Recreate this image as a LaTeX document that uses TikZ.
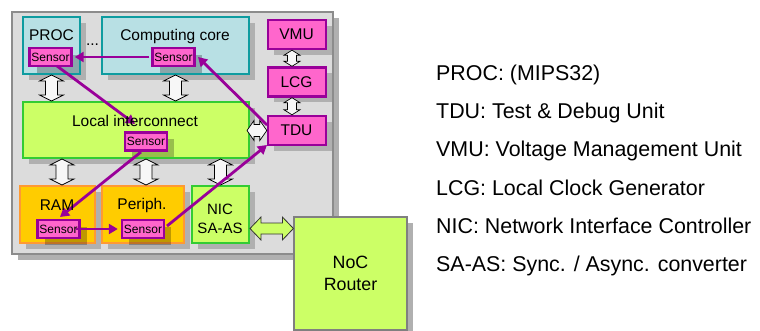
\documentclass[tikz,border=0pt]{standalone}
\usepackage{fontspec}
\setmainfont{Liberation Sans}
\usetikzlibrary{calc,shadows,arrows.meta}
\definecolor{panelgray}{HTML}{DCDCDC}
\definecolor{shadowgray}{HTML}{B0B0B0}
\definecolor{tealline}{HTML}{0E9CA0}
\definecolor{tealfill}{HTML}{B8E0E4}
\definecolor{limefill}{HTML}{CCFF66}
\definecolor{limeline}{HTML}{33CC33}
\definecolor{amberfill}{HTML}{FFCC00}
\definecolor{amberline}{HTML}{FF9933}
\definecolor{pinkfill}{HTML}{FF66CC}
\definecolor{purpleline}{HTML}{990099}
\tikzset{
  boxshadow/.style={drop shadow={shadow xshift=6pt,shadow yshift=-6pt,fill=shadowgray,opacity=1}},
  basebox/.style={draw,inner sep=0pt,line width=2pt,boxshadow},
  panel/.style={basebox,draw=gray!90,fill=panelgray},
  corebox/.style={basebox,draw=tealline,fill=tealfill},
  busbox/.style={basebox,draw=limeline,fill=limefill},
  membox/.style={basebox,draw=amberline,fill=amberfill},
  ctlbox/.style={basebox,line width=2.4pt,draw=purpleline,fill=pinkfill},
  routerbox/.style={basebox,line width=1.2pt,draw=gray,fill=limefill,align=center,font=\fontsize{17.8}{22.5}\selectfont},
  sensorbox/.style={draw=purpleline,fill=pinkfill,line width=2.4pt,inner sep=0pt,minimum width=42pt,minimum height=18pt,
    drop shadow={shadow xshift=7pt,shadow yshift=-7pt,fill=black,opacity=.25}},
  lbl/.style={inner sep=0pt,align=center,font=\fontsize{15.5}{18.5}\selectfont},
  sensorlbl/.style={inner sep=0pt,font=\fontsize{12}{14}\selectfont},
  legend/.style={inner sep=0pt,anchor=base west,font=\fontsize{21.4}{25}\selectfont},
  probe/.style={draw=purpleline,line width=2.8pt,-{Triangle[length=9pt,width=10pt]}},
  blockwhite/.style={draw=black,line width=.7pt,fill=white!97!black,line join=miter},
  blockgreen/.style={draw=black!80,line width=.8pt,fill=limefill,line join=miter},
}
% #1 style, #2 start, #3 end, #4 head length, #5 half head width, #6 half shaft width
\newcommand\blockarrow[6]{%
  \draw[#1] (#2)
    -- ($(#2)!#4!(#3)!#5!90:(#3)$) -- ($(#2)!#4!(#3)!#6!90:(#3)$)
    -- ($(#3)!#4!(#2)!#6!-90:(#2)$) -- ($(#3)!#4!(#2)!#5!-90:(#2)$)
    -- (#3)
    -- ($(#3)!#4!(#2)!#5!90:(#2)$) -- ($(#3)!#4!(#2)!#6!90:(#2)$)
    -- ($(#2)!#4!(#3)!#6!-90:(#3)$) -- ($(#2)!#4!(#3)!#5!-90:(#3)$)
    -- cycle;}
\begin{document}
\begin{tikzpicture}[x=1pt,y=-1pt]
\useasboundingbox (0,0) rectangle (760,331);
\clip (0,0) rectangle (760,331);
% panel
\node[panel,minimum width=321pt,minimum height=242pt] (soc) at (172.5,133) {};
% boxes
\node[corebox,minimum width=57pt,minimum height=57pt] (proc) at (51.5,45.5) {};
\node[corebox,minimum width=147pt,minimum height=57pt] (core) at (175.5,45.5) {};
\node[busbox,minimum width=226pt,minimum height=56pt] (bus) at (136,130) {};
\node[membox,minimum width=75pt,minimum height=57pt] (ram) at (57.5,214.5) {};
\node[membox,minimum width=82pt,minimum height=57pt] (per) at (143,214.5) {};
\node[busbox,minimum width=57pt,minimum height=57pt] (nic) at (220.5,214.5) {};
\node[ctlbox,minimum width=58pt,minimum height=29pt] (vmu) at (297,34.5) {};
\node[ctlbox,minimum width=58pt,minimum height=29pt] (lcg) at (297,82) {};
\node[ctlbox,minimum width=58pt,minimum height=29pt] (tdu) at (297,130.5) {};
% white block arrows
\coordinate (a1) at (proc.south);
\coordinate (b1) at (a1 |- bus.north);
\coordinate (a2) at (core.south);
\coordinate (b2) at (a2 |- bus.north);
\coordinate (a3) at ([xshift=4.5pt]ram.north);
\coordinate (b3) at (a3 |- bus.south);
\coordinate (a4) at ([xshift=3pt]per.north);
\coordinate (b4) at (a4 |- bus.south);
\coordinate (a5) at (nic.north);
\coordinate (b5) at (a5 |- bus.south);
\coordinate (a7) at ([xshift=-5pt]vmu.south);
\coordinate (b7) at ([xshift=-5pt]lcg.north);
\coordinate (a8) at ([xshift=-5pt]lcg.south);
\coordinate (b8) at ([xshift=-5pt]tdu.north);
\coordinate (a9) at ([xshift=-3pt]bus.east |- tdu.west);
\blockarrow{blockwhite}{a1}{b1}{6pt}{12pt}{6pt}
\blockarrow{blockwhite}{a2}{b2}{6pt}{12pt}{6pt}
\blockarrow{blockwhite}{a3}{b3}{6pt}{12pt}{6pt}
\blockarrow{blockwhite}{a4}{b4}{6pt}{12pt}{6pt}
\blockarrow{blockwhite}{a5}{b5}{6pt}{12pt}{6pt}
\blockarrow{blockwhite}{a7}{b7}{5pt}{8pt}{4.5pt}
\blockarrow{blockwhite}{a8}{b8}{5pt}{8pt}{4.5pt}
\blockarrow{blockwhite}{a9}{tdu.west}{7pt}{10pt}{6pt}
% router
\node[routerbox,minimum width=113pt,minimum height=113pt] (noc) at (350.5,273.5) {NoC\\Router};
\coordinate (g1) at ([yshift=-14pt]nic.east);
\coordinate (g2) at (noc.west |- g1);
\blockarrow{blockgreen}{g1}{g2}{11pt}{11.5pt}{5.5pt}
% sensors
\node[sensorbox] (s1) at (50.5,57) {};
\node[sensorbox] (s2) at (173.5,57) {};
\node[sensorbox] (s3) at (146,141.5) {};
\node[sensorbox] (s4) at (58.5,229) {};
\node[sensorbox] (s5) at (143,229) {};
% probes
\coordinate (e3) at (135,124);
\coordinate (e4) at (60,217);
\coordinate (p3) at (141,152);
\coordinate (p1) at (57,66);
\coordinate (c2) at (198,57);
\coordinate (t1) at (267,125);
\coordinate (t2) at (267,145);
\coordinate (p5) at (167,226);
\draw[probe] ([xshift=-2pt]s2.west) -- ([xshift=2pt]s1.east);
\draw[probe] (p1) -- (e3);
\draw[probe] (p3) -- (e4);
\draw[probe] ([xshift=-5pt]s4.east) -- ([xshift=-3pt]s5.west);
\draw[probe] (p5) -- (t2);
\draw[probe] (t1) -- (c2);
% labels
\node[lbl] (lproc) at (51.5,35.5) {PROC};
\node[lbl] (lcore) at (175,36) {Computing core};
\node[lbl] (lbus) at (135,120.5) {Local interconnect};
\node[lbl] (lram) at (57,205) {RAM};
\node[lbl] (lper) at (142,205) {Periph.};
\node[lbl,font=\fontsize{15}{19}\selectfont] (lnic) at (220,219) {NIC\\SA-AS};
\node[lbl] (lvmu) at (296.5,34) {VMU};
\node[lbl] (llcg) at (296.5,82) {LCG};
\node[lbl] (ltdu) at (296.5,130) {TDU};
\node[lbl] (dots) at (92.5,45) {...};
\node[sensorlbl] (t1x) at (s1) {Sensor};
\node[sensorlbl] (t2x) at (s2) {Sensor};
\node[sensorlbl] (t3x) at (s3) {Sensor};
\node[sensorlbl] (t4x) at (s4) {Sensor};
\node[sensorlbl] (t5x) at (s5) {Sensor};
% legend
\node[legend] (k1) at (436,80.5) {PROC: (MIPS32)};
\node[legend] (k2) at (436,119) {TDU: Test \& Debug Unit};
\node[legend] (k3) at (436,157) {VMU: Voltage Management Unit};
\node[legend] (k4) at (436,195.5) {LCG: Local Clock Generator};
\node[legend] (k5) at (436,233.5) {NIC: Network Interface Controller};
\node[legend] (k6) at (436,271.5) {SA-AS: Sync. / Async. converter};
\end{tikzpicture}
\end{document}
